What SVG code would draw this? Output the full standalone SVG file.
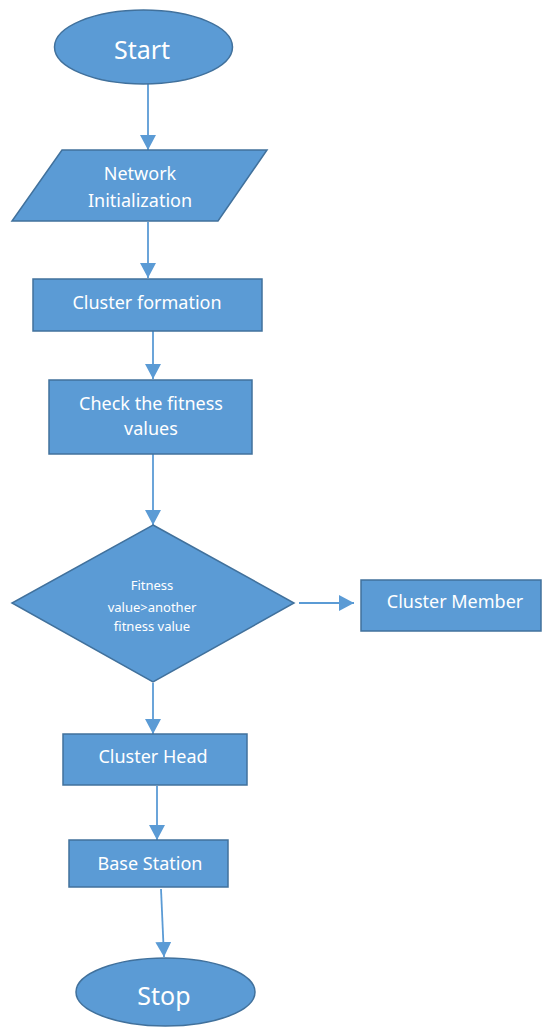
<svg xmlns="http://www.w3.org/2000/svg" width="542" height="1027" viewBox="0 0 542 1027">
<style>
.shape{fill:#5b9bd5;stroke:#41719c;stroke-width:1.5}
.lbl{fill:#ffffff;font-family:"Noto Sans","Open Sans","Liberation Sans",sans-serif;text-anchor:middle}
.big{font-size:25px}
.mid{font-size:18px}
.sm{font-size:13px}
.conn{stroke:#5b9bd5;stroke-width:1.8;fill:none;marker-end:url(#ah)}
</style>
<defs>
<marker id="ah" markerUnits="userSpaceOnUse" markerWidth="16" markerHeight="16" refX="15" refY="8" orient="auto">
<path d="M0,0 L15,8 L0,16 Z" fill="#5b9bd5"/>
</marker>
</defs>
<rect width="542" height="1027" fill="#ffffff"/>
<g id="connectors">
<line class="conn" x1="148" y1="84" x2="148" y2="150"/>
<line class="conn" x1="148" y1="222" x2="148" y2="278"/>
<line class="conn" x1="153" y1="331" x2="153" y2="379"/>
<line class="conn" x1="153" y1="454" x2="153" y2="525"/>
<line class="conn" x1="299" y1="603" x2="354" y2="603"/>
<line class="conn" x1="153" y1="683" x2="153" y2="734"/>
<line class="conn" x1="157" y1="786" x2="157" y2="840"/>
<line class="conn" x1="161" y1="889" x2="164" y2="957"/>
</g>
<g id="start">
<ellipse class="shape" cx="143.5" cy="47" rx="89" ry="37"/>
<text class="lbl big" x="142" y="59">Start</text>
</g>
<g id="network-init">
<polygon class="shape" points="62,150 267,150 218,221 12,221"/>
<text class="lbl mid" x="140" y="180">Network</text>
<text class="lbl mid" x="140" y="207">Initialization</text>
</g>
<g id="cluster-formation">
<rect class="shape" x="33" y="279" width="229" height="52"/>
<text class="lbl mid" x="147" y="309">Cluster formation</text>
</g>
<g id="check-fitness">
<rect class="shape" x="49" y="380" width="203" height="74"/>
<text class="lbl mid" x="151" y="410">Check the fitness</text>
<text class="lbl mid" x="151" y="435">values</text>
</g>
<g id="decision">
<polygon class="shape" points="153,525 294,603 153,682 12,603"/>
<text class="lbl sm" x="152" y="590">Fitness</text>
<text class="lbl sm" x="152" y="612">value&gt;another</text>
<text class="lbl sm" x="152" y="631">fitness value</text>
</g>
<g id="cluster-member">
<rect class="shape" x="361" y="580" width="180" height="51"/>
<text class="lbl mid" x="455" y="608">Cluster Member</text>
</g>
<g id="cluster-head">
<rect class="shape" x="63" y="734" width="184" height="51"/>
<text class="lbl mid" x="153" y="763">Cluster Head</text>
</g>
<g id="base-station">
<rect class="shape" x="69" y="840" width="159" height="47"/>
<text class="lbl mid" x="150" y="870">Base Station</text>
</g>
<g id="stop">
<ellipse class="shape" cx="165.5" cy="992" rx="89.5" ry="34"/>
<text class="lbl big" x="164" y="1005">Stop</text>
</g>
</svg>
